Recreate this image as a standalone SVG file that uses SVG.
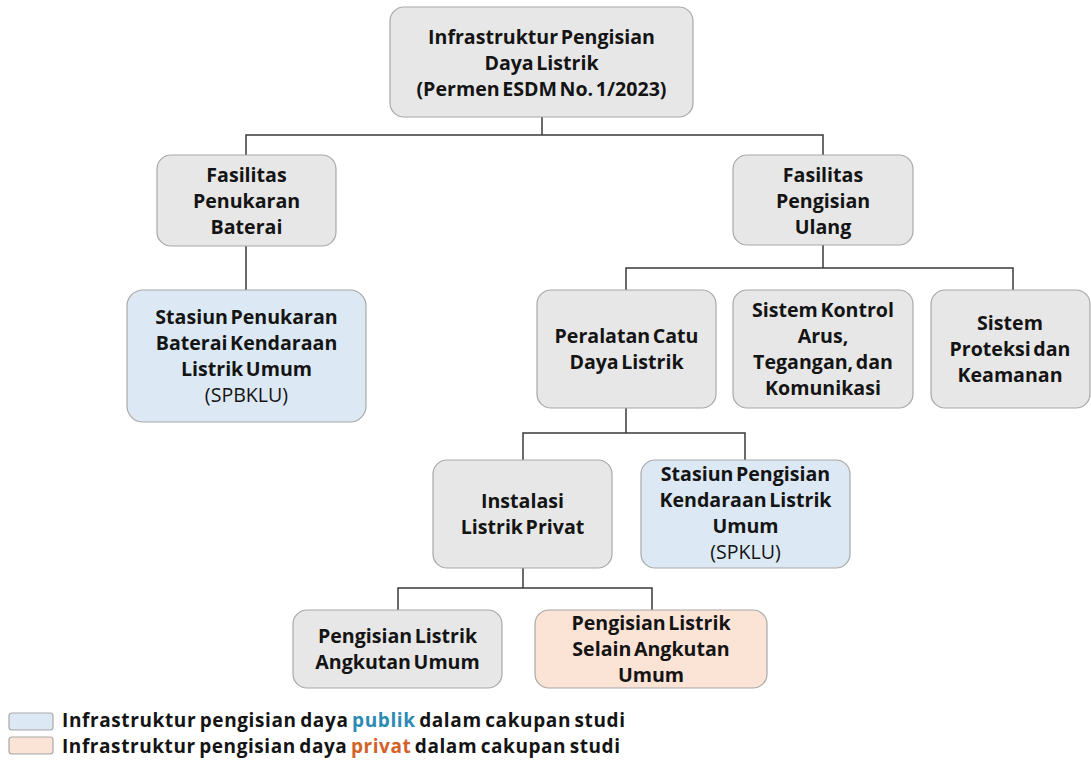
<svg xmlns="http://www.w3.org/2000/svg" width="1091" height="761" viewBox="0 0 1091 761">
<style>
.box{stroke:#a8a8a8;stroke-width:1.2}
.g{fill:#e7e7e7}
.b{fill:#dce9f5}
.o{fill:#fbe3d6}
.t{font-family:"Open Sans","Liberation Sans",sans-serif;font-weight:700;font-size:19.6px;fill:#141414;text-anchor:middle;word-spacing:-2.5px}
.r{font-weight:400}
.lg{font-family:"Open Sans","Liberation Sans",sans-serif;font-weight:700;font-size:19px;fill:#141414;word-spacing:-2px}
.con{fill:none;stroke:#3a3a3a;stroke-width:1.5}
</style>
<rect width="1091" height="761" fill="#ffffff"/>
<g id="connectors" class="con">
<path d="M542 117V135M246 155V135H823V155"/>
<path d="M246 246V290"/>
<path d="M823 245V268M626 290V268H1013V290"/>
<path d="M626 408V433M523 460V433H745V460"/>
<path d="M523 568V588M398 610V588H652V610"/>
</g>
<g id="n-root"><rect class="box g" x="390" y="7" width="303" height="110" rx="14"/>
<text class="t" x="541.5" y="44">Infrastruktur Pengisian</text>
<text class="t" x="541.5" y="70">Daya Listrik</text>
<text class="t" x="541.5" y="96">(Permen ESDM No. 1/2023)</text></g>
<g id="n-fpb"><rect class="box g" x="157" y="155" width="179" height="91" rx="14"/>
<text class="t" x="246.5" y="182">Fasilitas</text>
<text class="t" x="246.5" y="208">Penukaran</text>
<text class="t" x="246.5" y="234">Baterai</text></g>
<g id="n-fpu"><rect class="box g" x="733" y="155" width="180" height="90" rx="14"/>
<text class="t" x="823" y="181.5">Fasilitas</text>
<text class="t" x="823" y="207.5">Pengisian</text>
<text class="t" x="823" y="233.5">Ulang</text></g>
<g id="n-spbklu"><rect class="box b" x="127" y="290" width="239" height="132" rx="16"/>
<text class="t" x="246.5" y="324">Stasiun Penukaran</text>
<text class="t" x="246.5" y="350">Baterai Kendaraan</text>
<text class="t" x="246.5" y="376">Listrik Umum</text>
<text class="t r" x="246.5" y="402">(SPBKLU)</text></g>
<g id="n-peralatan"><rect class="box g" x="537" y="290" width="179" height="118" rx="14"/>
<text class="t" x="626.5" y="343">Peralatan Catu</text>
<text class="t" x="626.5" y="369">Daya Listrik</text></g>
<g id="n-kontrol"><rect class="box g" x="733" y="290" width="180" height="118" rx="14"/>
<text class="t" x="823" y="317">Sistem Kontrol</text>
<text class="t" x="823" y="343">Arus,</text>
<text class="t" x="823" y="369">Tegangan, dan</text>
<text class="t" x="823" y="395">Komunikasi</text></g>
<g id="n-proteksi"><rect class="box g" x="931" y="290" width="159" height="118" rx="14"/>
<text class="t" x="1010" y="330">Sistem</text>
<text class="t" x="1010" y="356">Proteksi dan</text>
<text class="t" x="1010" y="382">Keamanan</text></g>
<g id="n-instalasi"><rect class="box g" x="433" y="460" width="179" height="108" rx="14"/>
<text class="t" x="522.5" y="508">Instalasi</text>
<text class="t" x="522.5" y="534">Listrik Privat</text></g>
<g id="n-spklu"><rect class="box b" x="641" y="460" width="209" height="108" rx="14"/>
<text class="t" x="745.5" y="481">Stasiun Pengisian</text>
<text class="t" x="745.5" y="507">Kendaraan Listrik</text>
<text class="t" x="745.5" y="533">Umum</text>
<text class="t r" x="745.5" y="559">(SPKLU)</text></g>
<g id="n-angkutan"><rect class="box g" x="293" y="610" width="209" height="78" rx="14"/>
<text class="t" x="397.5" y="643">Pengisian Listrik</text>
<text class="t" x="397.5" y="669">Angkutan Umum</text></g>
<g id="n-selain"><rect class="box o" x="535" y="610" width="232" height="78" rx="14"/>
<text class="t" x="651" y="630">Pengisian Listrik</text>
<text class="t" x="651" y="656">Selain Angkutan</text>
<text class="t" x="651" y="682">Umum</text></g>
<g id="legend">
<rect class="box b" x="9" y="713" width="44" height="17" rx="3"/>
<rect class="box o" x="9" y="737" width="44" height="17" rx="3"/>
<text class="lg" x="62" y="727" textLength="563" lengthAdjust="spacing">Infrastruktur pengisian daya <tspan fill="#2b8bb5">publik</tspan> dalam cakupan studi</text>
<text class="lg" x="62" y="753" textLength="558" lengthAdjust="spacing">Infrastruktur pengisian daya <tspan fill="#d2622a">privat</tspan> dalam cakupan studi</text>
</g>
</svg>
